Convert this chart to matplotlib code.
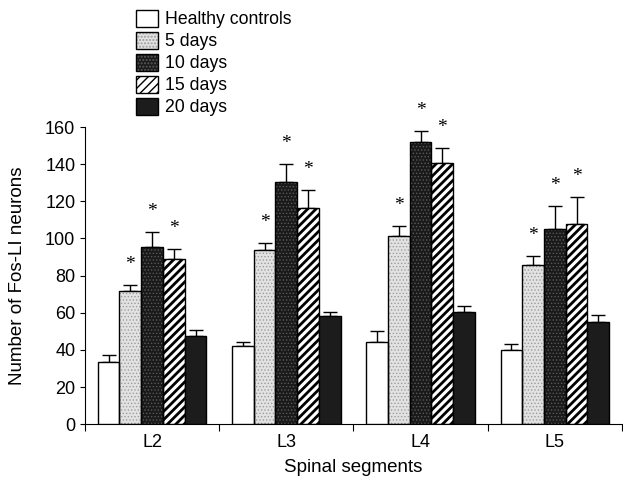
import numpy as np
import matplotlib.pyplot as plt
from matplotlib.legend_handler import HandlerTuple

segments = ['L2', 'L3', 'L4', 'L5']
groups = ['Healthy controls', '5 days', '10 days', '15 days', '20 days']

healthy = [33.6, 42.0, 44.4, 39.9]
day5 = [71.8, 93.8, 101.5, 85.7]
day10 = [95.5, 130.6, 151.8, 105.0]
day15 = [88.7, 116.2, 140.5, 107.8]
day20 = [47.6, 58.2, 60.5, 55.1]

healthy_err = [3.9, 2.5, 5.9, 3.0]
day5_err = [3.2, 3.6, 5.2, 5.0]
day10_err = [8.1, 9.3, 6.2, 12.6]
day15_err = [5.6, 9.8, 8.0, 14.3]
day20_err = [3.2, 2.0, 3.2, 3.8]

# asterisk = significant vs healthy controls
signif = [False, True, True, True, False]

values = [healthy, day5, day10, day15, day20]
errors = [healthy_err, day5_err, day10_err, day15_err, day20_err]

faces = ['white', '#e2e2e2', '#1a1a1a', 'white', '#1c1c1c']
hatches = [None, '.....', '.....', '////', None]
hatch_cols = [None, '#9c9c9c', '#5a5a5a', 'black', None]
hatch_lws = [1.0, 0.6, 0.6, 2.0, 1.0]

plt.rcParams['font.family'] = ['Liberation Sans', 'DejaVu Sans']

fig = plt.figure(figsize=(6.23, 4.82), dpi=100)
ax = fig.add_axes([0.1364, 0.120, 0.862, 0.6165])

x = np.arange(len(segments)) + 0.5
w = 0.162


def fill_patch(i):
    plt.rcParams['hatch.linewidth'] = hatch_lws[i]
    return plt.Rectangle((0, 0), 1, 1, facecolor=faces[i], hatch=hatches[i],
                         edgecolor=hatch_cols[i] or 'none', linewidth=0)


handles = []
for i, (vals, errs) in enumerate(zip(values, errors)):
    pos = x + (i - 2) * w
    plt.rcParams['hatch.linewidth'] = hatch_lws[i]
    if hatches[i]:
        ax.bar(pos, vals, w, color=faces[i], hatch=hatches[i],
               edgecolor=hatch_cols[i], linewidth=0, zorder=2)
    ax.bar(pos, vals, w, color='none' if hatches[i] else faces[i],
           edgecolor='black', linewidth=1.0, zorder=3)
    ax.errorbar(pos, vals, yerr=[np.zeros(len(vals)), errs], fmt='none',
                ecolor='black', elinewidth=1.0, capsize=5, capthick=1.0, zorder=1)
    if signif[i]:
        for p, v, e in zip(pos, vals, errs):
            ax.text(p, v + e + 6.5, '*', ha='center', va='bottom',
                    fontsize=14, family='Liberation Serif')
    edge = plt.Rectangle((0, 0), 1, 1, facecolor='none', edgecolor='black',
                         linewidth=1.0)
    handles.append((fill_patch(i), edge))

ax.set_xlim(0, 4)
ax.set_ylim(0, 160)
ax.set_yticks(range(0, 161, 20))
ax.set_xticks(range(0, 5))
ax.set_xticklabels([])
ax.set_xticks(x, minor=True)
ax.set_xticklabels(segments, minor=True)
ax.tick_params(axis='both', which='both', labelsize=13)
ax.tick_params(axis='x', which='minor', length=0, pad=7)
ax.tick_params(axis='x', which='major', length=5)
ax.spines['top'].set_visible(False)
ax.spines['right'].set_visible(False)

ax.set_ylabel('Number of Fos-LI neurons', fontsize=13.5, labelpad=14)
ax.set_xlabel('Spinal segments', fontsize=13.5, labelpad=6)

fig.legend(handles, groups, loc='upper left', bbox_to_anchor=(0.204, 0.998),
           frameon=False, fontsize=12.7, handlelength=1.25, handleheight=1.1,
           labelspacing=0.2, handletextpad=0.4, borderpad=0,
           handler_map={tuple: HandlerTuple(ndivide=1, pad=0)})

fig.savefig('out.png', dpi=100)
